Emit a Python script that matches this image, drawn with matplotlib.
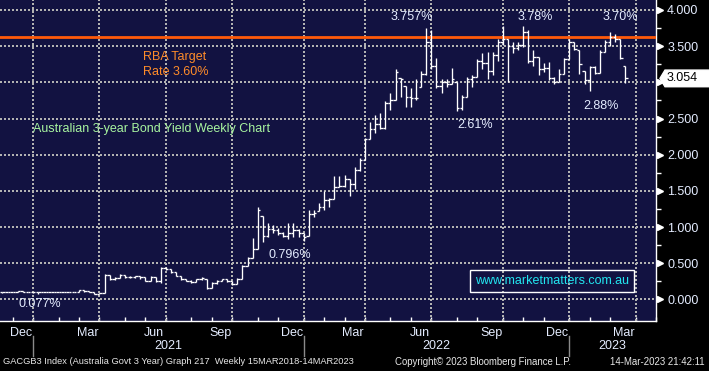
import numpy as np
import pandas as pd
import matplotlib
matplotlib.use("Agg")
import matplotlib.pyplot as plt
import matplotlib.dates as mdates
import matplotlib.transforms as mtransforms
from matplotlib.patches import Polygon

plt.rcParams['font.family'] = ['Liberation Sans', 'DejaVu Sans']

# GACGB3 weekly bars (week ending Friday)
week_end = pd.date_range("2020-11-13", periods=123, freq="W-FRI")

close = [0.10, 0.10, 0.10, 0.12, 0.11, 0.10, 0.10, 0.10, 0.10, 0.10,
         0.10, 0.10, 0.11, 0.10, 0.10, 0.13, 0.12, 0.10, 0.08, 0.09,
         0.34, 0.28, 0.30, 0.34, 0.31, 0.31, 0.32, 0.31, 0.26, 0.31, 0.25,
         0.44, 0.42, 0.38, 0.33, 0.29, 0.26, 0.24, 0.28, 0.30, 0.16,
         0.23, 0.26, 0.28, 0.25, 0.22, 0.29, 0.46, 0.57, 0.70,
         1.24, 0.88, 0.98, 0.96, 0.92, 0.88, 0.92, 0.96, 0.92, 0.86,
         1.18, 1.20, 1.28, 1.38, 1.39, 1.56, 1.57, 1.66, 1.59, 1.79,
         1.93, 2.22, 2.36, 2.42, 2.37, 2.72, 2.75, 3.14,
         3.04, 2.80, 2.79, 2.78, 3.12, 3.55, 3.22, 2.95, 3.00, 2.98,
         3.05, 2.64, 2.80, 3.05, 3.08, 3.30, 3.27, 3.16, 3.38, 3.55, 3.60, 3.50,
         3.47, 3.52, 3.70, 3.30, 3.35, 3.18, 3.20, 3.06, 3.00, 3.12,
         3.32, 3.55, 3.46, 3.25, 3.03, 3.21, 3.13, 3.42, 3.55, 3.62,
         3.60, 3.34, 3.054]
high = [0.11, 0.11, 0.11, 0.12, 0.12, 0.11, 0.11, 0.10, 0.11, 0.10,
        0.11, 0.11, 0.11, 0.11, 0.11, 0.13, 0.13, 0.12, 0.10, 0.09,
        0.35, 0.34, 0.31, 0.35, 0.34, 0.32, 0.33, 0.32, 0.31, 0.32, 0.31,
        0.45, 0.45, 0.42, 0.38, 0.32, 0.29, 0.27, 0.29, 0.31, 0.29,
        0.24, 0.27, 0.29, 0.28, 0.26, 0.30, 0.48, 0.59, 0.85,
        1.28, 1.16, 1.05, 1.03, 0.99, 0.93, 1.05, 1.05, 0.98, 0.92,
        1.24, 1.23, 1.33, 1.50, 1.40, 1.70, 1.70, 1.72, 1.66, 1.83,
        1.95, 2.23, 2.45, 2.55, 2.58, 2.74, 2.85, 3.18,
        3.06, 2.95, 2.92, 3.04, 3.15, 3.757, 3.72, 3.34, 3.04, 3.05,
        3.20, 3.00, 2.83, 3.07, 3.10, 3.32, 3.40, 3.42, 3.42, 3.60, 3.78, 3.60,
        3.55, 3.56, 3.78, 3.72, 3.45, 3.35, 3.26, 3.28, 3.08, 3.18,
        3.34, 3.60, 3.55, 3.44, 3.16, 3.22, 3.22, 3.44, 3.58, 3.70,
        3.67, 3.60, 3.23]
low = [0.09, 0.10, 0.10, 0.10, 0.10, 0.10, 0.09, 0.08, 0.10, 0.10,
       0.10, 0.10, 0.10, 0.10, 0.10, 0.11, 0.11, 0.10, 0.08, 0.08,
       0.09, 0.27, 0.27, 0.30, 0.30, 0.30, 0.30, 0.29, 0.25, 0.26, 0.24,
       0.23, 0.41, 0.36, 0.32, 0.27, 0.25, 0.23, 0.24, 0.27, 0.15,
       0.16, 0.22, 0.25, 0.24, 0.20, 0.21, 0.29, 0.46, 0.57,
       0.70, 0.80, 0.86, 0.92, 0.89, 0.86, 0.84, 0.86, 0.86, 0.81,
       0.88, 1.14, 1.22, 1.24, 1.28, 1.39, 1.55, 1.55, 1.43, 1.53,
       1.78, 1.93, 2.22, 2.30, 2.36, 2.36, 2.62, 2.75,
       2.80, 2.66, 2.66, 2.76, 2.94, 3.10, 3.18, 2.92, 2.85, 2.93,
       2.98, 2.61, 2.62, 2.80, 2.93, 3.08, 3.19, 3.05, 3.10, 3.30, 3.52, 3.00,
       3.40, 3.45, 3.49, 3.26, 3.22, 3.10, 3.14, 3.03, 2.97, 3.01,
       3.11, 3.32, 3.44, 3.11, 2.97, 2.88, 3.12, 3.13, 3.42, 3.50,
       3.56, 3.32, 2.99]

rba_level = 3.63
y_ticks = [0.0, 0.5, 1.0, 1.5, 2.0, 2.5, 3.0, 3.5, 4.0]

navy = '#121241'
grid_col = '#b2b2b2'
txt_col = '#e4ecff'

close = np.array(close)
high = np.array(high)
low = np.array(low)
x = mdates.date2num(week_end.to_pydatetime())
opens = np.clip(np.r_[close[0], close[:-1]], low, high)

fig = plt.figure(figsize=(7.09, 3.71), dpi=100, facecolor='black')
ax = fig.add_axes([0, 50 / 371, 656 / 709, 321 / 371], facecolor=navy)

left = x[0] - 3.35
ax.set_xlim(left, left + 656 / 0.746)
ax.set_ylim(-0.297, 4.137)

# quarter grid at last friday of quarter-end month, minor ticks at month ends
fridays = pd.date_range("2020-11-06", "2023-04-30", freq="W-FRI")
month_end = [d for d in fridays if (d + pd.Timedelta(days=7)).month != d.month]
quarter_end = [d for d in month_end if d.month in (3, 6, 9, 12)]

dots = (0, (0.95, 1.25))
for d in quarter_end:
    ax.axvline(mdates.date2num(d), color=grid_col, lw=1.5, ls=dots, zorder=2,
               snap=True, antialiased=False)
for y in y_ticks:
    ax.axhline(y, color=grid_col, lw=1.5, ls=dots, zorder=2,
               snap=True, antialiased=False)

ax.axhline(rba_level, color='#ff5a0a', lw=2.0, zorder=3)

# OHLC bars
tick = 3.3
ax.vlines(x, low, high, color='white', lw=0.95, zorder=4)
ax.hlines(opens, x - tick, x, color='white', lw=0.95, zorder=4)
ax.hlines(close, x, x + tick, color='white', lw=0.95, zorder=4)

for s in ['left', 'top']:
    ax.spines[s].set_visible(False)
for s in ['right', 'bottom']:
    ax.spines[s].set_color('white')
    ax.spines[s].set_linewidth(1.0)

# right axis
ax.yaxis.tick_right()
ax.set_yticks(y_ticks)
ax.set_yticklabels(['' if v == 3.0 else '%.3f' % v for v in y_ticks])
ax.set_yticks(np.arange(0.25, 4.1, 0.5), minor=True)
ax.tick_params(axis='y', which='major', length=0, pad=8, labelsize=9, labelcolor=txt_col)
ax.tick_params(axis='y', which='minor', length=3.5, width=1, color='white', direction='out')
tr = mtransforms.blended_transform_factory(ax.transAxes, ax.transData)
ax.plot([1.0068] * len(y_ticks), y_ticks, ls='none', marker='>', ms=4.5,
        color='white', clip_on=False, transform=tr)

# last value box
c = close[-1]
h = 0.115
box = Polygon([(1.006, c), (1.0137, c + h), (1.09, c + h), (1.09, c - h), (1.0137, c - h)],
              closed=True, facecolor='white', edgecolor='white', transform=tr,
              clip_on=False, zorder=6)
ax.add_patch(box)
ax.text(1.0155, c, '%.3f' % c, transform=tr, color='black', fontsize=9,
        ha='left', va='center', zorder=7, clip_on=False)

# bottom axis
label_pos = [mdates.date2num(d - pd.Timedelta(days=16)) for d in quarter_end]
label_txt = [d.strftime('%b') for d in quarter_end]
ax.set_xticks(label_pos)
ax.set_xticklabels(label_txt)
ax.set_xticks([mdates.date2num(d) for d in month_end], minor=True)
ax.tick_params(axis='x', which='major', length=0, pad=4, labelsize=9, labelcolor=txt_col)
ax.tick_params(axis='x', which='minor', length=3, width=1, color='white', direction='in')

trx = mtransforms.blended_transform_factory(ax.transData, ax.transAxes)
sep = [mdates.date2num(d) for d in quarter_end if d.month == 12]
bounds = sep + [ax.get_xlim()[1]]
for yr, a, b in zip(['2021', '2022', '2023'], bounds[:-1], bounds[1:]):
    ax.text((a + b) / 2, -0.078, yr, transform=trx, ha='center', va='center',
            fontsize=9, color=txt_col)
for s in sep:
    ax.plot([s, s], [-0.047, -0.109], transform=trx, color='#8a8a8a', lw=1, clip_on=False)

# annotations
ax.text(0.628, 0.947, '3.757%', transform=ax.transAxes, ha='center', va='center', fontsize=9, color=txt_col)
ax.text(0.8155, 0.947, '3.78%', transform=ax.transAxes, ha='center', va='center', fontsize=9, color=txt_col)
ax.text(0.945, 0.947, '3.70%', transform=ax.transAxes, ha='center', va='center', fontsize=9, color=txt_col)
ax.text(0.7248, 0.6106, '2.61%', transform=ax.transAxes, ha='center', va='center', fontsize=9, color=txt_col)
ax.text(0.916, 0.6698, '2.88%', transform=ax.transAxes, ha='center', va='center', fontsize=9, color=txt_col)
ax.text(0.442, 0.2056, '0.796%', transform=ax.transAxes, ha='center', va='center', fontsize=9, color=txt_col)
ax.text(0.061, 0.053, '0.077%', transform=ax.transAxes, ha='center', va='center', fontsize=9, color=txt_col)

ax.text(0.218, 0.822, 'RBA Target', transform=ax.transAxes, ha='left', va='center', fontsize=9, color='#ff8c2a')
ax.text(0.218, 0.776, 'Rate 3.60%', transform=ax.transAxes, ha='left', va='center', fontsize=9, color='#ff8c2a')
ax.text(0.0503, 0.598, 'Australian 3-year Bond Yield Weekly Chart', transform=ax.transAxes,
        ha='left', va='center', fontsize=9, color='#a8f5a0')
ax.text(0.8415, 0.1246, 'www.marketmatters.com.au', transform=ax.transAxes, ha='center',
        va='center', fontsize=9, color='#22e6f0',
        bbox=dict(boxstyle='square,pad=0.38', fc='none', ec='white', lw=1))

# footer
fig.text(3 / 709, 0.0243, 'GACGB3 Index (Australia Govt 3 Year) Graph 217  Weekly 15MAR2018-14MAR2023',
         fontsize=6.7, color='#e8e8e8', va='center', ha='left')
fig.text(395 / 709, 0.0243, 'Copyright\u00a9 2023 Bloomberg Finance L.P.',
         fontsize=6.9, color='#e8e8e8', va='center', ha='left')
fig.text(705 / 709, 0.0243, '14-Mar-2023 21:42:11',
         fontsize=6.9, color='#e8e8e8', va='center', ha='right')

fig.savefig('out.png', dpi=100, facecolor='black')
